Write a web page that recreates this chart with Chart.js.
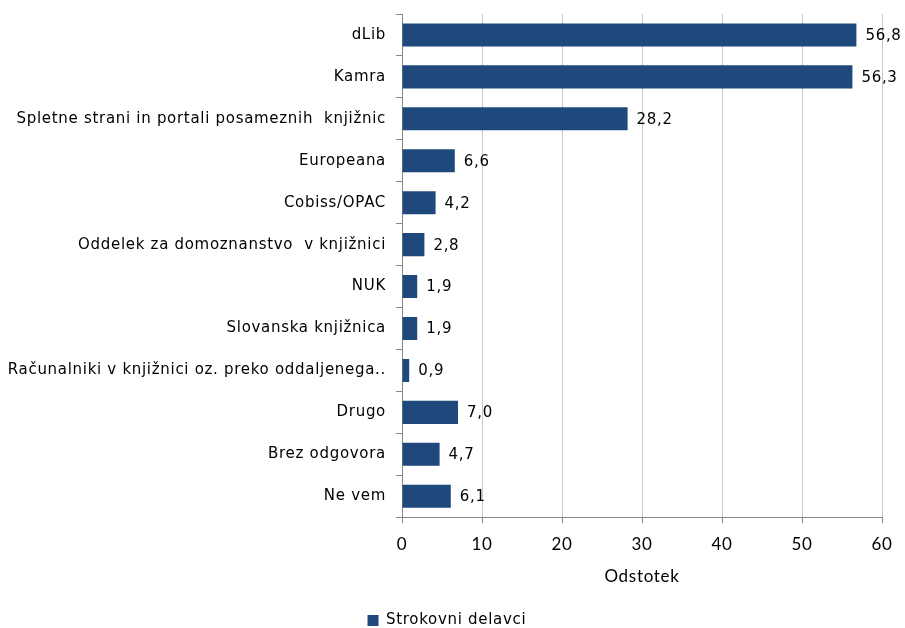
<!DOCTYPE html>
<html lang="sl">
<head>
<meta charset="UTF-8">
<title>Strokovni delavci</title>
<script src="https://cdn.jsdelivr.net/npm/chart.js@4/dist/chart.umd.min.js"></script>
<style>
  body { margin: 0; background: #fff; }
  #wrap { width: 905px; height: 628px; position: relative; }
</style>
</head>
<body>
<div id="wrap"><canvas id="chart" width="905" height="628"></canvas></div>
<script>
const categories = [
  'dLib',
  'Kamra',
  'Spletne strani in portali posameznih  knjižnic',
  'Europeana',
  'Cobiss/OPAC',
  'Oddelek za domoznanstvo  v knjižnici',
  'NUK',
  'Slovanska knjižnica',
  'Računalniki v knjižnici oz. preko oddaljenega..',
  'Drugo',
  'Brez odgovora',
  'Ne vem'
];
const strokovniDelavci = [56.8, 56.3, 28.2, 6.6, 4.2, 2.8, 1.9, 1.9, 0.9, 7.0, 4.7, 6.1];
const xTicks = [0, 10, 20, 30, 40, 50, 60];

const FONT = 'DejaVu Sans';
const NUMFONT = 'Lato';

// wider letter spacing like the original rendering
const spacing = {
  id: 'spacing',
  beforeDraw(chart) { chart.ctx.letterSpacing = '0.7px'; }
};

const valueLabels = {
  id: 'valueLabels',
  afterDatasetsDraw(chart) {
    const ctx = chart.ctx;
    const meta = chart.getDatasetMeta(0);
    ctx.save();
    ctx.font = '15px "' + FONT + '"';
    ctx.fillStyle = '#000';
    ctx.textBaseline = 'middle';
    meta.data.forEach((bar, i) => {
      const txt = strokovniDelavci[i].toFixed(1).replace('.', ',');
      ctx.fillText(txt, bar.x + 9, bar.y + 1);
    });
    ctx.restore();
  }
};

new Chart(document.getElementById('chart'), {
  type: 'bar',
  data: {
    labels: categories,
    datasets: [{
      label: 'Strokovni delavci',
      data: strokovniDelavci,
      backgroundColor: '#1f497d',
      borderWidth: 0,
      barPercentage: 0.55,
      categoryPercentage: 1
    }]
  },
  options: {
    indexAxis: 'y',
    responsive: false,
    animation: false,
    layout: { padding: { top: 14, right: 23, left: 0, bottom: -10 } },
    scales: {
      x: {
        min: 0,
        max: 60,
        afterBuildTicks: s => { s.ticks = xTicks.map(v => ({ value: v })); },
        grid: { color: '#c8c8c8', tickLength: 6, tickColor: '#888', drawTicks: true },
        border: { color: '#888' },
        ticks: { color: '#000', font: { family: NUMFONT, size: 17 }, padding: 11 },
        title: { display: true, text: 'Odstotek', color: '#000', font: { family: NUMFONT, size: 17 }, padding: { top: 1, bottom: 24 } }
      },
      y: {
        afterFit: s => { s.width = 402; s.paddingTop = 0; s.paddingBottom = 0; },
        grid: { display: true, drawOnChartArea: false, offset: true, tickLength: 6, tickColor: '#888' },
        border: { color: '#888' },
        ticks: { color: '#000', font: { family: FONT, size: 15 }, padding: 10, autoSkip: false }
      }
    },
    plugins: {
      legend: {
        position: 'bottom',
        labels: { color: '#000', font: { family: FONT, size: 15 }, boxWidth: 11, boxHeight: 11, padding: 2 }
      },
      tooltip: { enabled: false }
    }
  },
  plugins: [spacing, valueLabels]
});
</script>
</body>
</html>
